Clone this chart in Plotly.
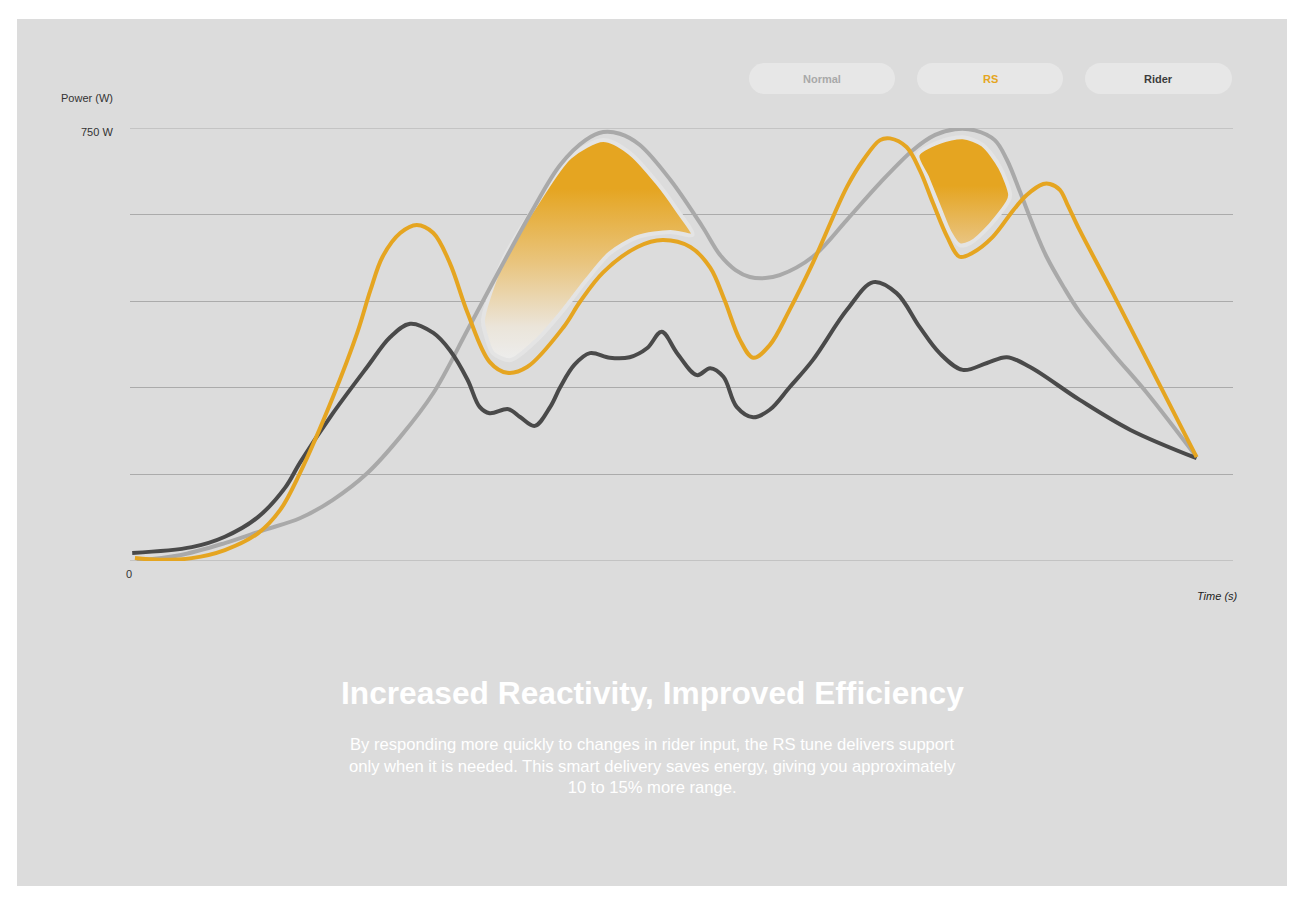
import plotly.graph_objects as go

# ---------------- data (time in arbitrary seconds, power in W) ----------------
normal_t = [0.6, 4.5, 8.6, 12.2, 15.4, 18.4, 21.5, 24.5, 27.5, 30.6, 33.5, 36.5, 39.0, 41.3, 42.9,
            44.4, 46.2, 49.0, 51.9, 53.5, 54.9, 56.2, 57.6, 58.9, 61.9, 65.0, 68.0, 71.0, 73.0, 74.8,
            76.6, 78.4, 79.5, 80.7, 81.9, 83.1, 84.6, 86.1, 89.1, 92.2, 96.7]
normal_w = [1, 10, 31, 54, 74, 106, 152, 215, 291, 400, 504, 608, 686, 729, 743,
            740, 721, 660, 579, 530, 504, 492, 490, 495, 527, 591, 655, 712, 738, 748,
            746, 729, 695, 639, 580, 527, 476, 431, 360, 291, 180]

rs_t = [0.45, 2.7, 5.6, 8.6, 11.6, 13.6, 15.4, 18.4, 20.6, 21.8, 22.9, 24.5, 26.0, 27.5, 29.0,
        30.6, 32.6, 34.2, 36.0, 39.3, 40.8, 42.9, 46.0, 48.3, 50.8, 52.6, 53.9, 55.3, 56.5, 58.0,
        59.8, 61.9, 65.0, 66.5, 68.0, 68.9, 70.4, 71.6, 72.8, 74.1, 75.2, 76.4, 78.2, 80.1, 81.3,
        82.8, 83.4, 84.3, 85.0, 86.1, 89.1, 96.7]
rs_w = [5, 2, 5, 19, 48, 88, 152, 284, 395, 469, 527, 568, 582, 568, 516,
        430, 345, 326, 336, 405, 449, 500, 544, 556, 544, 508, 452, 383, 352, 374,
        435, 516, 648, 695, 729, 732, 717, 677, 620, 561, 527, 534, 561, 608, 634,
        653, 653, 643, 617, 573, 464, 180]

rider_t = [0.2, 5.6, 8.6, 11.6, 14.1, 15.4, 18.4, 21.5, 23.6, 25.4, 27.5, 29.0, 30.6, 31.7, 32.6,
           34.3, 35.4, 36.7, 38.1, 39.0, 40.3, 41.7, 43.5, 45.3, 46.9, 48.2, 49.6, 51.4, 52.6, 53.8,
           55.0, 56.5, 58.0, 59.8, 61.9, 65.0, 67.4, 69.5, 71.6, 73.4, 75.5, 77.7, 79.5, 81.6, 86.1,
           90.7, 96.7]
rider_w = [14, 24, 42, 76, 128, 170, 256, 336, 388, 411, 395, 365, 314, 267, 256,
           263, 249, 234, 267, 301, 340, 360, 352, 353, 369, 397, 360, 322, 334, 319,
           267, 249, 262, 301, 348, 435, 483, 464, 405, 360, 331, 343, 353, 336, 279,
           227, 178]

# highlighted "saved energy" regions (outline)
hl1_t = [32.2, 32.0, 33.8, 36.9, 39.9, 42.9, 45.3, 47.8, 49.6, 51.0, 49.0, 46.0, 43.5, 41.4,
         39.3, 36.9, 34.5, 32.9, 32.2]
hl1_w = [395, 417, 521, 620, 700, 729, 707, 655, 608, 565, 570, 561, 533, 487,
         435, 383, 348, 360, 395]
hl2_t = [71.4, 73.4, 75.5, 77.3, 78.9, 79.8, 79.6, 78.0, 76.2, 75.2, 74.3, 73.4, 72.3, 71.4]
hl2_w = [703, 726, 734, 721, 681, 634, 622, 582, 551, 547, 570, 611, 663, 703]

y_ticks = [0, 150, 300, 450, 600, 750]
legend_labels = ["Normal", "RS", "Rider"]

# ---------------- styles ----------------
GRAY = "#a9a9a9"
ORANGE = "#e5a521"
DARK = "#4a4a4a"
PANEL = "#dcdcdc"
GRID = "#ababab"

W, H = 1316, 911
L, R, T, B = 130, 1233, 128, 561  # plot area in pixels


def px(x):
    return (x - L) / (R - L)


def py(y):
    return (B - y) / (B - T)


fig = go.Figure()

fig.add_trace(go.Scatter(
    x=hl1_t, y=hl1_w, mode="lines", fill="toself",
    line=dict(color="#e4e4e4", width=4, shape="spline", smoothing=0.8),
    fillgradient=dict(type="vertical", colorscale=[[0, "#ededed"], [0.15, "#ebe5da"],
                                                   [0.45, "#e9c47c"], [0.78, ORANGE], [1, ORANGE]]),
    hoverinfo="skip", showlegend=False))
fig.add_trace(go.Scatter(
    x=hl2_t, y=hl2_w, mode="lines", fill="toself",
    line=dict(color="#e4e4e4", width=4, shape="spline", smoothing=0.8),
    fillgradient=dict(type="vertical", colorscale=[[0, "#e9c584"], [0.55, ORANGE], [1, ORANGE]]),
    hoverinfo="skip", showlegend=False))

SM = 1.0
fig.add_trace(go.Scatter(x=normal_t, y=normal_w, mode="lines", name="Normal",
                         line=dict(color=GRAY, width=4, shape="spline", smoothing=SM),
                         showlegend=False))
fig.add_trace(go.Scatter(x=rider_t, y=rider_w, mode="lines", name="Rider",
                         line=dict(color=DARK, width=4, shape="spline", smoothing=SM),
                         showlegend=False))
fig.add_trace(go.Scatter(x=rs_t, y=rs_w, mode="lines", name="RS",
                         line=dict(color=ORANGE, width=4, shape="spline", smoothing=SM),
                         showlegend=False))

shapes = []
# grey panel
shapes.append(dict(type="rect", xref="paper", yref="paper", layer="below",
                   x0=px(17), x1=px(1287), y0=py(886), y1=py(19),
                   fillcolor=PANEL, line=dict(width=0)))
# edge grid lines (0 and 750 W)
for v in (y_ticks[0], y_ticks[-1]):
    shapes.append(dict(type="line", xref="paper", yref="y", layer="below",
                       x0=0, x1=1, y0=v, y1=v, line=dict(color=GRID, width=1)))


def pill(x0, x1, y0, y1):
    r = (y1 - y0) / 2
    k = 0.55 * r
    pts = [
        ("M", [(x0 + r, y0)]),
        ("L", [(x1 - r, y0)]),
        ("C", [(x1 - r + k, y0), (x1, y0 + r - k), (x1, y0 + r)]),
        ("C", [(x1, y0 + r + k), (x1 - r + k, y1), (x1 - r, y1)]),
        ("L", [(x0 + r, y1)]),
        ("C", [(x0 + r - k, y1), (x0, y0 + r + k), (x0, y0 + r)]),
        ("C", [(x0, y0 + r - k), (x0 + r - k, y0), (x0 + r, y0)]),
    ]
    s = ""
    for cmd, ps in pts:
        s += cmd + " " + " ".join(f"{px(a):.5f},{py(b):.5f}" for a, b in ps) + " "
    return s + "Z"


pill_x = [(749, 895), (917, 1063), (1085, 1232)]
pill_colors = [GRAY, ORANGE, "#3c3c3c"]
annotations = []
for (a, b), lab, col in zip(pill_x, legend_labels, pill_colors):
    shapes.append(dict(type="path", xref="paper", yref="paper", layer="below",
                       path=pill(a, b, 63, 94), fillcolor="#e7e7e7", line=dict(width=0)))
    annotations.append(dict(xref="paper", yref="paper", x=px((a + b) / 2), y=py(78.5),
                            text=f"<b>{lab}</b>", showarrow=False,
                            font=dict(family="Liberation Sans", size=11, color=col),
                            xanchor="center", yanchor="middle"))

annotations += [
    dict(xref="paper", yref="paper", x=px(115), y=py(98), text="Power (W)", showarrow=False,
         xanchor="right", yanchor="middle",
         font=dict(family="Liberation Sans", size=11, color="#333333")),
    dict(xref="paper", yref="paper", x=px(115), y=py(132), text="750 W", showarrow=False,
         xanchor="right", yanchor="middle",
         font=dict(family="Liberation Sans", size=11, color="#333333")),
    dict(xref="paper", yref="paper", x=px(129), y=py(574), text="0", showarrow=False,
         xanchor="center", yanchor="middle",
         font=dict(family="Liberation Sans", size=11, color="#333333")),
    dict(xref="paper", yref="paper", x=px(1240), y=py(596), text="<i>Time (s)</i>", showarrow=False,
         xanchor="right", yanchor="middle",
         font=dict(family="Liberation Sans", size=11, color="#222222")),
    dict(xref="paper", yref="paper", x=px(652), y=py(693),
         text="<b>Increased Reactivity, Improved Efficiency</b>", showarrow=False,
         xanchor="center", yanchor="middle",
         font=dict(family="Liberation Sans", size=31.7, color="white")),
    dict(xref="paper", yref="paper", x=px(652), y=py(766),
         text="By responding more quickly to changes in rider input, the RS tune delivers support<br>"
              "only when it is needed. This smart delivery saves energy, giving you approximately<br>"
              "10 to 15% more range.",
         showarrow=False, xanchor="center", yanchor="middle", align="center",
         font=dict(family="Liberation Sans", size=16.6, color="white")),
]

fig.update_layout(
    width=W, height=H,
    margin=dict(l=L, r=W - R, t=T, b=H - B, pad=0),
    paper_bgcolor="white", plot_bgcolor="rgba(0,0,0,0)",
    shapes=shapes, annotations=annotations,
    xaxis=dict(range=[0, 100], showgrid=False, zeroline=False, showticklabels=False,
               showline=False, fixedrange=True),
    yaxis=dict(range=[0, 750], tickvals=y_ticks, showticklabels=False, showgrid=True,
               gridcolor=GRID, gridwidth=1, zeroline=False, showline=False, fixedrange=True),
    showlegend=False,
)

fig.write_html("out.html")
